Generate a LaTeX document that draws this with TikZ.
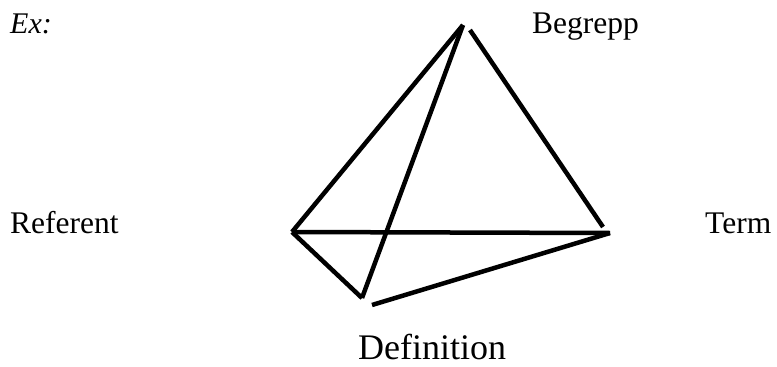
\documentclass[tikz,border=0pt]{standalone}
\usepackage{fontspec}
\setmainfont{Liberation Serif}
\begin{document}
\begin{tikzpicture}[x=1pt,y=-1pt,
  lbl/.style={inner sep=0pt,anchor=base west,font=\fontsize{31.5}{36}\selectfont},
  edge/.style={line width=4.5pt,black}]
\useasboundingbox (0,0) rectangle (777,367);
\node[lbl,font=\fontsize{30}{36}\selectfont\itshape] (ex) at (10,33) {Ex:};
\node[lbl] (beg) at (532,33) {Begrepp};
\node[lbl] (ref) at (10,233) {Referent};
\node[lbl] (term) at (705,233) {Term};
\node[lbl,font=\fontsize{36}{42}\selectfont] (def) at (358,359) {Definition};
\coordinate (A) at (463,25);
\coordinate (A2) at (470,30);
\coordinate (R) at (292,232);
\coordinate (T1) at (603,227);
\coordinate (T) at (610,233);
\coordinate (D) at (362,298);
\coordinate (D2) at (372,305);
\draw[edge] (A) -- (R);
\draw[edge] (A) -- (D);
\draw[edge] (A2) -- (T1);
\draw[edge] (R) -- (T);
\draw[edge] (R) -- (D);
\draw[edge] (D2) -- (T);
\end{tikzpicture}
\end{document}
